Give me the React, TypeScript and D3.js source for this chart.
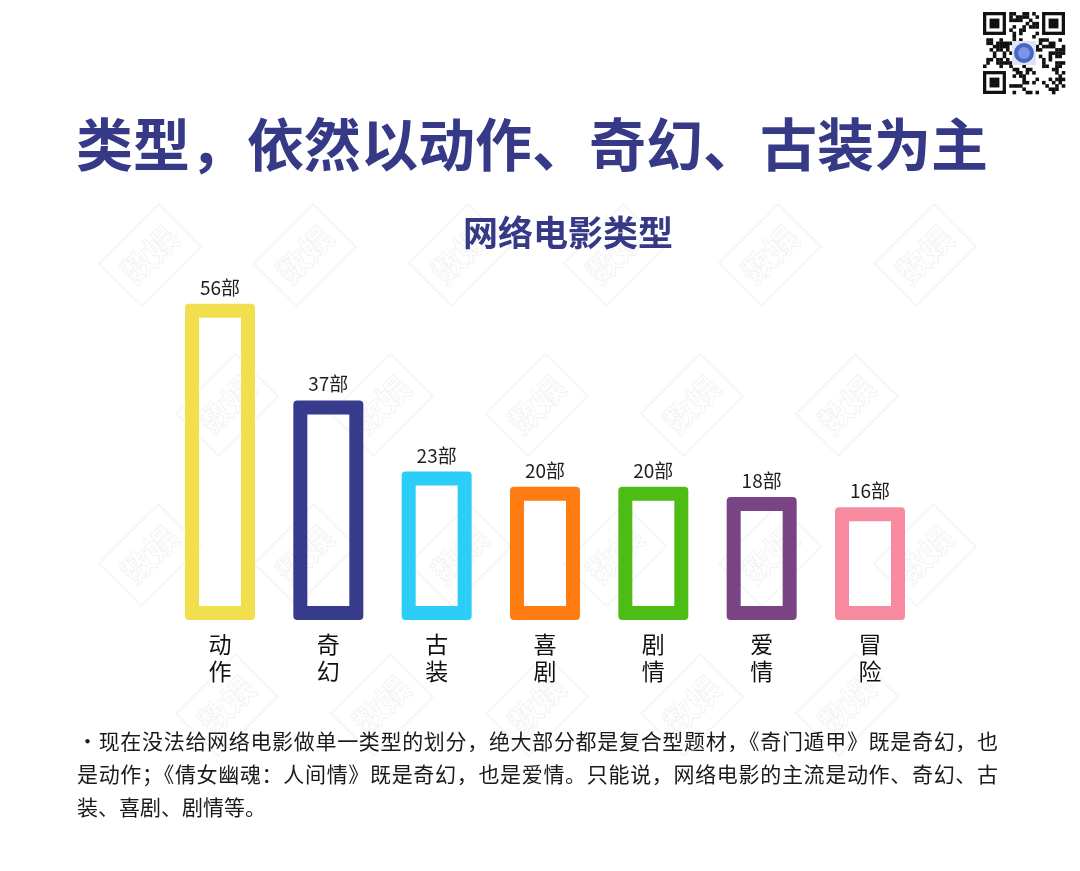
import React from "react";
import * as d3 from "d3";

const categories = ["动作", "奇幻", "古装", "喜剧", "剧情", "爱情", "冒险"];
const counts = [56, 37, 23, 20, 20, 18, 16];
const barColors = ["#F2DF4E", "#363B8B", "#2CCDF6", "#FF7C10", "#4DBC14", "#7A4384", "#F78A9E"];
const valueSuffix = "部";

const title = "类型，依然以动作、奇幻、古装为主";
const subtitle = "网络电影类型";
const noteLines = [
  "・现在没法给网络电影做单一类型的划分，绝大部分都是复合型题材，《奇门遁甲》既是奇幻，也",
  "是动作；《倩女幽魂：人间情》既是奇幻，也是爱情。只能说，网络电影的主流是动作、奇幻、古",
  "装、喜剧、剧情等。",
];

const W = 1080;
const H = 871;
const FONT = "'Noto Sans CJK SC', 'Noto Sans', sans-serif";
const NAVY = "#363A86";

const baseY = 620;
const border = 14;

function framePath(x: number, y0: number, w: number, h: number, r: number, b: number) {
  const p = d3.path();
  p.moveTo(x + r, y0);
  p.lineTo(x + w - r, y0);
  p.arcTo(x + w, y0, x + w, y0 + r, r);
  p.lineTo(x + w, y0 + h - r);
  p.arcTo(x + w, y0 + h, x + w - r, y0 + h, r);
  p.lineTo(x + r, y0 + h);
  p.arcTo(x, y0 + h, x, y0 + h - r, r);
  p.lineTo(x, y0 + r);
  p.arcTo(x, y0, x + r, y0, r);
  p.closePath();
  p.moveTo(x + b, y0 + b);
  p.lineTo(x + b, y0 + h - b);
  p.lineTo(x + w - b, y0 + h - b);
  p.lineTo(x + w - b, y0 + b);
  p.closePath();
  return p.toString();
}

function Watermarks() {
  const items: { x: number; y: number }[] = [];
  for (let row = 0; row < 4; row++) {
    for (let col = 0; col < 6; col++) {
      const xx = 150 + col * 155 + (row % 2) * 77;
      if (xx > 960) continue;
      items.push({ x: xx, y: 255 + row * 150 });
    }
  }
  return (
    <g opacity={0.35}>
      {items.map((d, i) => (
        <g key={i} transform={`translate(${d.x},${d.y}) rotate(-45)`}>
          <rect x={-42} y={-30} width={84} height={60} fill="none" stroke="#e4e4e4" strokeWidth={2} />
          <text
            x={0}
            y={12}
            textAnchor="middle"
            fontFamily={FONT}
            fontSize={32}
            fontWeight={700}
            fill="none"
            stroke="#e0e0e0"
            strokeWidth={1.2}
          >
            数娱
          </text>
        </g>
      ))}
    </g>
  );
}

function QRCode() {
  const n = 25;
  const x0 = 983;
  const y0 = 12;
  const size = 82;
  const m = size / n;
  const cells: React.ReactElement[] = [];
  const inFinder = (i: number, j: number) =>
    (i < 8 && j < 8) || (i >= n - 8 && j < 8) || (i < 8 && j >= n - 8);
  for (let i = 0; i < n; i++) {
    for (let j = 0; j < n; j++) {
      if (inFinder(i, j)) continue;
      const v = ((i * 31 + j * 17) ^ (i * j * 7 + 3)) % 5;
      if (v < 2) {
        cells.push(<rect key={`${i}-${j}`} x={x0 + i * m} y={y0 + j * m} width={m + 0.3} height={m + 0.3} fill="#111" />);
      }
    }
  }
  const finder = (fx: number, fy: number, k: string) => (
    <g key={k}>
      <rect x={x0 + fx * m} y={y0 + fy * m} width={7 * m} height={7 * m} fill="#111" />
      <rect x={x0 + (fx + 1) * m} y={y0 + (fy + 1) * m} width={5 * m} height={5 * m} fill="#fff" />
      <rect x={x0 + (fx + 2) * m} y={y0 + (fy + 2) * m} width={3 * m} height={3 * m} fill="#111" />
    </g>
  );
  return (
    <g>
      <rect x={x0 - 3} y={y0 - 3} width={size + 6} height={size + 6} fill="#fff" />
      {cells}
      {finder(0, 0, "a")}
      {finder(n - 7, 0, "b")}
      {finder(0, n - 7, "c")}
      <rect x={x0 + size / 2 - 12} y={y0 + size / 2 - 12} width={24} height={24} fill="#dfe3f5" />
      <circle cx={x0 + size / 2} cy={y0 + size / 2} r={10} fill="#4a63c9" />
      <circle cx={x0 + size / 2} cy={y0 + size / 2} r={6} fill="#7d94e6" />
    </g>
  );
}

export default function App() {
  const x = d3.scaleBand<string>().domain(categories).range([185, 905]).paddingInner(0.354).paddingOuter(0);
  const y = d3.scaleLinear().domain([0, 60]).range([588.6, 283.4]);

  return (
    <svg
      width={W}
      height={H}
      viewBox={`0 0 ${W} ${H}`}
      style={{ position: "absolute", left: 0, top: 0, background: "#fff" }}
    >
      <rect x={0} y={0} width={W} height={H} fill="#fff" />
      <Watermarks />
      <QRCode />

      <text x={532} y={166} textAnchor="middle" fontFamily={FONT} fontSize={57} fontWeight={700} fill={NAVY}>
        {title}
      </text>
      <text x={568} y={246} textAnchor="middle" fontFamily={FONT} fontSize={35} fontWeight={700} fill={NAVY}>
        {subtitle}
      </text>

      {categories.map((c, i) => {
        const bx = x(c) as number;
        const bw = x.bandwidth();
        const top = y(counts[i]);
        const cx = bx + bw / 2;
        return (
          <g key={c}>
            <path d={framePath(bx, top, bw, baseY - top, 4, border)} fill={barColors[i]} fillRule="evenodd" />
            <text x={cx} y={top - 9} textAnchor="middle" fontFamily={FONT} fontSize={19} fill="#1e1e1e">
              {counts[i]}
              {valueSuffix}
            </text>
            <text
              x={cx}
              y={633}
              fontFamily={FONT}
              fontSize={23}
              fill="#111"
              letterSpacing={4}
              style={{ writingMode: "vertical-rl" }}
            >
              {c}
            </text>
          </g>
        );
      })}

      {noteLines.map((line, i) => (
        <text
          key={i}
          x={77}
          y={749 + i * 33}
          fontFamily={FONT}
          fontSize={21}
          fill="#1a1a1a"
          textLength={i < 2 ? 921 : undefined}
          lengthAdjust="spacing"
        >
          {line}
        </text>
      ))}
    </svg>
  );
}
